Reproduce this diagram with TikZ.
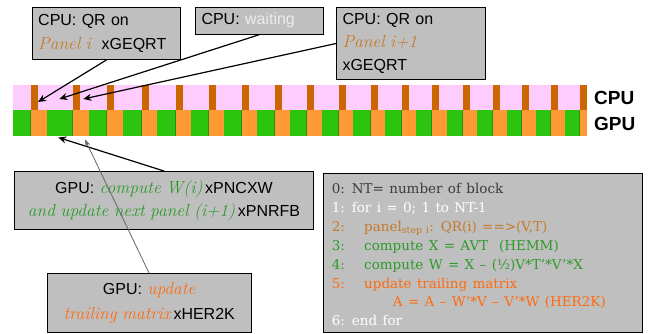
\documentclass[tikz,border=0pt]{standalone}
\usepackage{fontspec}
\setsansfont{Liberation Sans}
\newfontfamily\codefont[WordSpace=1.25]{DejaVu Serif}
\usetikzlibrary{arrows.meta}

\definecolor{cpupink}{HTML}{FFCCFF}
\definecolor{cpuqr}{HTML}{CC6600}
\definecolor{gpugreen}{HTML}{2CC40F}
\definecolor{gpuorange}{HTML}{FF9933}
\definecolor{boxgray}{HTML}{BFBFBF}
\definecolor{panelbrown}{HTML}{C47A2C}
\definecolor{pnlgreen}{HTML}{2E9A2A}
\definecolor{updorange}{HTML}{FF6A10}
\definecolor{codegray}{HTML}{3C3C3C}

\newcommand{\script}[1]{{\rmfamily\itshape\fontsize{17.5}{17.5}\selectfont #1}}

\begin{document}
\begin{tikzpicture}[x=1pt,y=-1pt]

  \useasboundingbox (0,0) rectangle (648,333);

  % node styles
  \tikzstyle{Box}=[
  anchor=north west,
  draw,line width=1pt,
  fill=boxgray,
  font=\sffamily\fontsize{16}{24}\selectfont,
  inner sep=6pt,
  shape=rectangle]

  \tikzstyle{Code}=[anchor=base west,inner sep=0pt,
  font=\codefont\fontsize{13.5}{15}\selectfont]

  \tikzstyle{Label}=[anchor=west,inner sep=0pt,
  font=\sffamily\bfseries\fontsize{19}{19}\selectfont]

  \tikzstyle{Arrow}=[line width=1.2pt,-{Stealth[length=8pt,width=7pt]}]

  % time line of the two devices
  \fill[cpupink]  (13.3,85) rectangle (587,110);
  \fill[gpugreen] (13.3,110) rectangle (587,136);
  \foreach \x/\w in {30.7/16,72.7/16.3,107/16,141.7/15.3,175.7/15.3,
    209/15,242.3/14.7,275/15,307.3/14.4,339.3/14,370.7/14.3,402/14,
    432.3/14.4,462.7/14,492.7/14,521.7/14.3,550.7/14,580/7}{
    \fill[cpuqr]     (\x,85)  rectangle +(7,25);
    \fill[gpugreen!75!black] (\x-1.2,110) rectangle (\x,136);
    \fill[gpuorange] (\x,110) rectangle +(\w,26);
  }

  \node[Label] (CPU) at (594,98)  {CPU};
  \node[Label] (GPU) at (594,124) {GPU};

  % arrow targets
  \coordinate (T1) at (38,102);
  \coordinate (T2) at (59.3,99);
  \coordinate (T3) at (83.3,99);
  \coordinate (T4) at (58.3,137.5);
  \coordinate (T5) at (85,139.5);

  % boxes
  \node[Box,minimum width=148.3pt,minimum height=52.3pt,
    text width=136.3pt,align=left] (B1) at (31.7,6.7)
    {CPU: QR on\\{\color{panelbrown}\script{Panel i}}\ \ xGEQRT};

  \node[Box,minimum width=128pt,minimum height=26.6pt,
    text width=116pt,align=left] (B2) at (195,6.7)
    {CPU: {\color{white!93!black}waiting}};

  \node[Box,minimum width=149pt,minimum height=72.6pt,
    text width=137pt,align=left,
    font=\sffamily\fontsize{16}{23}\selectfont] (B3) at (336,6.7)
    {CPU: QR on\\{\color{panelbrown}\script{Panel i+1}}\\xGEQRT};

  \node[Box,minimum width=299pt,minimum height=58pt,
    text width=287pt,align=center,
    font=\sffamily\fontsize{16}{23.3}\selectfont] (B4) at (14,171)
    {GPU: {\color{pnlgreen}\script{compute W(i)}}\,xPNCXW\\
     {\color{pnlgreen}\script{and update next panel (i+1)}}\,xPNRFB};

  \node[Box,minimum width=204pt,minimum height=58.4pt,
    text width=192pt,align=center,
    font=\sffamily\fontsize{16}{25}\selectfont] (B5) at (46.7,273.3)
    {GPU: {\color{updorange}\script{update}}\\
     {\color{updorange}\script{trailing matrix}}\,xHER2K};

  \node[Box,minimum width=319pt,minimum height=158.5pt] (B6) at (322.7,173.3) {};

  % algorithm
  \node[Code,text=codegray]  (L0) at (331.7,193.5) {0: NT= number of block};
  \node[Code,text=white]     (L1) at (331.7,212.4) {1: for i = 0; 1 to NT-1};
  \node[Code,text=panelbrown](L2) at (331.7,231.3) {2:};
  \node[Code,text=panelbrown]     at (364,231.3)   {panel\textsubscript{step i}: QR(i) ==>(V,T)};
  \node[Code,text=pnlgreen]  (L3) at (331.7,250.2) {3:};
  \node[Code,text=pnlgreen]       at (364,250.2)   {compute X = AVT \ (HEMM)};
  \node[Code,text=pnlgreen]  (L4) at (331.7,269.1) {4:};
  \node[Code,text=pnlgreen]       at (364,269.1)   {compute W = X – (½)V*T’*V’*X};
  \node[Code,text=updorange] (L5) at (331.7,288)   {5:};
  \node[Code,text=updorange]      at (364,288)     {update trailing matrix};
  \node[Code,text=updorange]      at (392.7,306.9) {A = A – W’*V – V’*W (HER2K)};
  \node[Code,text=white]     (L6) at (331.7,325.8) {6: end for};

  % connectors
  \draw[Arrow] (B1.south) -- (T1);
  \draw[Arrow] (B2.south) -- (T2);
  \draw[Arrow] (B3.west)  -- (T3);
  \draw[Arrow] (B4.north) -- (T4);
  \draw[line width=0.8pt,black!60,-{Stealth[length=7pt,width=5pt]}] (B5.north) -- (T5);

\end{tikzpicture}
\end{document}
